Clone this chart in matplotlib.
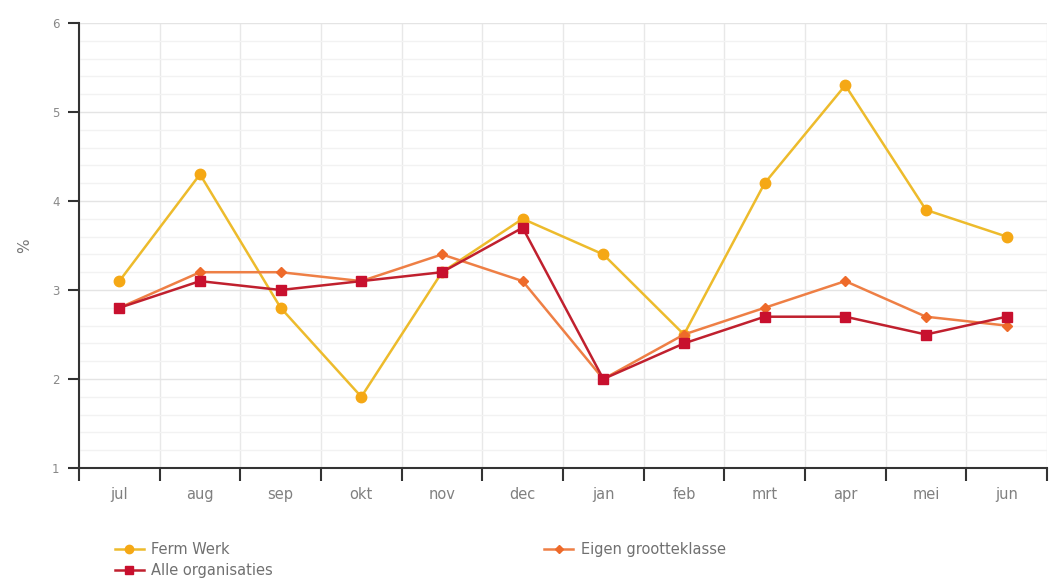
import numpy as np
import matplotlib.pyplot as plt
from matplotlib.ticker import MultipleLocator

months = ['jul', 'aug', 'sep', 'okt', 'nov', 'dec', 'jan', 'feb', 'mrt', 'apr', 'mei', 'jun']
ferm_werk = [3.1, 4.3, 2.8, 1.8, 3.2, 3.8, 3.4, 2.5, 4.2, 5.3, 3.9, 3.6]
eigen_klasse = [2.8, 3.2, 3.2, 3.1, 3.4, 3.1, 2.0, 2.5, 2.8, 3.1, 2.7, 2.6]
alle_org = [2.8, 3.1, 3.0, 3.1, 3.2, 3.7, 2.0, 2.4, 2.7, 2.7, 2.5, 2.7]

x = np.arange(len(months))

fig = plt.figure(figsize=(10.52, 5.78), dpi=100)
ax = fig.add_axes([0.0751, 0.1903, 0.9201, 0.7699])

l1, = ax.plot(x, ferm_werk, color='#EDBB2C', lw=1.8, marker='o', ms=7.5,
              mfc='#F5A815', mec='#F5A815', zorder=3)
l3, = ax.plot(x, eigen_klasse, color='#EE7F45', lw=1.8, marker='D', ms=5,
              mfc='#EE6A2A', mec='#EE6A2A', zorder=4)
l2, = ax.plot(x, alle_org, color='#C0202E', lw=1.8, marker='s', ms=7.5,
              mfc='#C8102E', mec='#C8102E', zorder=5)

ax.set_xlim(-0.5, len(months) - 0.5)
ax.set_ylim(1, 6)
ax.set_xticks(x)
ax.set_xticklabels(months, fontsize=10.5, color='#808080')
ax.set_xticks(np.arange(-0.5, len(months), 1), minor=True)
ax.tick_params(axis='x', which='major', length=0, pad=14)
ax.tick_params(axis='x', which='minor', length=9, width=1.5, color='#333333')
ax.yaxis.set_major_locator(MultipleLocator(1))
ax.yaxis.set_minor_locator(MultipleLocator(0.2))
ax.tick_params(axis='y', which='major', labelsize=8.5, labelcolor='#888888',
               length=8, width=1.5, color='#333333', pad=6)
ax.tick_params(axis='y', which='minor', length=0)
ax.set_ylabel('%', fontsize=11, color='#777777', labelpad=14)

ax.grid(True, axis='y', which='major', color='#E4E4E4', lw=1)
ax.grid(True, axis='y', which='minor', color='#F2F2F2', lw=1)
ax.grid(True, axis='x', which='minor', color='#E8E8E8', lw=1)
ax.set_axisbelow(True)

for s in ['top', 'right']:
    ax.spines[s].set_visible(False)
for s in ['left', 'bottom']:
    ax.spines[s].set_color('#333333')
    ax.spines[s].set_linewidth(1.5)

fig.legend([l1, l2, l3], ['Ferm Werk', 'Alle organisaties', 'Eigen grootteklasse'],
           loc='upper left', bbox_to_anchor=(0.102, 0.075), ncol=2, frameon=False,
           fontsize=10.5, labelcolor='#707070', handlelength=2.0,
           columnspacing=18.6, labelspacing=0.4, borderpad=0, handletextpad=0.5,
           markerscale=0.8)

fig.savefig('out.png', dpi=100)
